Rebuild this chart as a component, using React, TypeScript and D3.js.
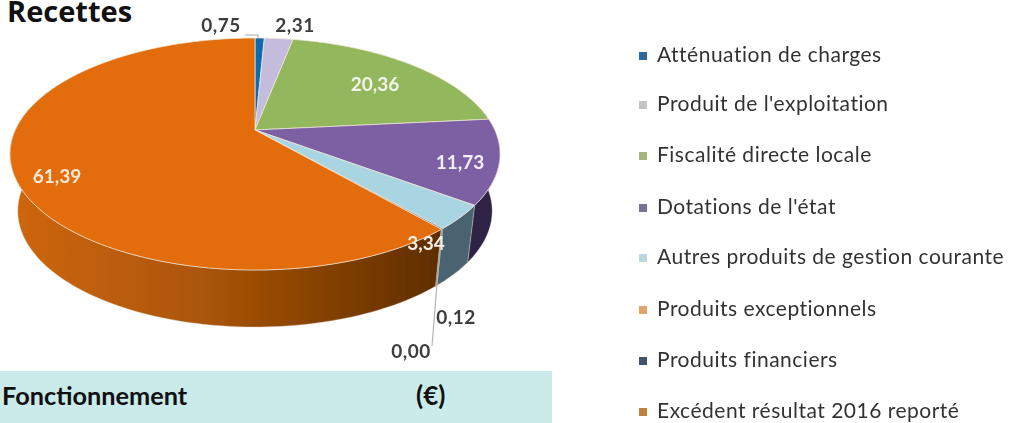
import React from "react";
import * as d3 from "d3";

const categories = [
  "Atténuation de charges",
  "Produit de l'exploitation",
  "Fiscalité directe locale",
  "Dotations de l'état",
  "Autres produits de gestion courante",
  "Produits exceptionnels",
  "Produits financiers",
  "Excédent résultat 2016 reporté",
];
const values = [0.75, 2.31, 20.36, 11.73, 3.34, 0.0, 0.12, 61.39];
const labels = ["0,75", "2,31", "20,36", "11,73", "3,34", "0,00", "0,12", "61,39"];
const topColors = ["#0f6aae", "#c3bcdc", "#93b75c", "#7d5ea3", "#a9d5e2", "#e8a05a", "#44606f", "#e36c09"];
const sideColors = ["#0a4a7a", "#8b86a0", "#66803f", "#2d2347", "#4a6470", "#a8682a", "#4a6470", "url(#orangeSide)"];
const legendColors = ["#2f6c9c", "#c4c4c6", "#a5b57a", "#77729a", "#bcd8de", "#e0a36c", "#3c566e", "#bf803f"];

const cx = 255, cy = 154, rx = 245, ry = 116, depth = 57, tilt = -0.207, baseScale = 0.968;

function project(theta: number, dy = 0, sx = 1): [number, number] {
  const x = Math.sin(theta), y = -Math.cos(theta);
  const d = 1 + tilt * y;
  return [cx + (sx * rx * x * Math.sqrt(1 - tilt * tilt)) / d, cy + (ry * (y + tilt)) / d + dy];
}

const apex: [number, number] = [cx, cy + ry * tilt];
const arcs = d3.pie<number>().sort(null).value((d) => d)(values);
const line = d3.line();

function topPath(a0: number, a1: number) {
  const n = Math.max(2, Math.ceil((a1 - a0) * 40));
  const pts = d3.range(n + 1).map((i) => project(a0 + ((a1 - a0) * i) / n));
  return line([apex, ...pts]) + "Z";
}

function sidePath(a0: number, a1: number) {
  const lo = Math.max(a0, Math.PI / 2 - 0.2), hi = Math.min(a1, (3 * Math.PI) / 2 + 0.2);
  if (hi <= lo) return null;
  const n = Math.max(2, Math.ceil((hi - lo) * 40));
  const ts = d3.range(n + 1).map((i) => lo + ((hi - lo) * i) / n);
  return line([...ts.map((t) => project(t)), ...ts.slice().reverse().map((t) => project(t, depth, baseScale))]) + "Z";
}

const inside = [
  { i: 2, x: 375, y: 91, color: "#f2f4ea" },
  { i: 3, x: 460, y: 169, color: "#f3eff8" },
  { i: 4, x: 426, y: 250, color: "#f4efe8" },
  { i: 7, x: 57, y: 183, color: "#fbe9d8" },
];
const outside = [
  { i: 0, x: 221, y: 32 },
  { i: 1, x: 295, y: 32 },
  { i: 6, x: 456, y: 324 },
  { i: 5, x: 411, y: 358 },
];
const legendY = [56, 105, 156, 208, 258, 310, 361, 412];

const font = "Lato, 'Open Sans', sans-serif";

export default function App() {
  const tip = project(arcs[6].endAngle);
  return (
    <svg width={1009} height={423} style={{ position: "absolute", left: 0, top: 0, background: "#fff" }} fontFamily={font}>
      <defs>
        <linearGradient id="orangeSide" gradientUnits="userSpaceOnUse" x1={10} x2={440} y1={0} y2={0}>
          <stop offset="0" stopColor="#cf6609" />
          <stop offset="0.45" stopColor="#ab5507" />
          <stop offset="0.8" stopColor="#7a3c04" />
          <stop offset="1" stopColor="#5e2e02" />
        </linearGradient>
        <filter id="soft" x="-5%" y="-5%" width="110%" height="110%">
          <feGaussianBlur stdDeviation="0.45" />
        </filter>
      </defs>

      <g filter="url(#soft)">
        {arcs.map((a, i) => {
          const d = sidePath(a.startAngle, a.endAngle);
          return d ? <path key={i} d={d} fill={sideColors[i]} stroke="#d9c9b8" strokeWidth={0.4} /> : null;
        })}
        {arcs.map((a, i) =>
          a.endAngle > a.startAngle ? (
            <path key={i} d={topPath(a.startAngle, a.endAngle)} fill={topColors[i]} stroke="#f3ead8" strokeWidth={0.7} strokeLinejoin="round" />
          ) : null
        )}

        <path d={`M245,35H258V38`} fill="none" stroke="#a6a6a6" strokeWidth={1} />
        <path d={`M${tip[0]},${tip[1]}L432,346`} fill="none" stroke="#b4b4b4" strokeWidth={1.2} />

        {inside.map((l) => (
          <text key={l.i} x={l.x} y={l.y} textAnchor="middle" fontSize={19} fontWeight={700} fill={l.color}>{labels[l.i]}</text>
        ))}
        {outside.map((l) => (
          <text key={l.i} x={l.x} y={l.y} textAnchor="middle" fontSize={19} letterSpacing={0.5} fontWeight={700} fill="#3c3c3c">{labels[l.i]}</text>
        ))}

        {categories.map((c, i) => (
          <g key={c}>
            <rect x={639} y={legendY[i] - 4} width={8} height={8} fill={legendColors[i]} />
            <text x={657} y={legendY[i] + 6} fontSize={21} letterSpacing={0.5} fill="#333">{c}</text>
          </g>
        ))}
      </g>

      <text x={7} y={22} fontSize={29} fontWeight={700} fontFamily="'Open Sans', sans-serif" fill="#111">Recettes</text>

      <rect x={0} y={371} width={552} height={52} fill="#cbeaea" />
      <text x={2} y={405} fontSize={25.3} fontWeight={700} fill="#111">Fonctionnement</text>
      <text x={416} y={405} fontSize={26} fontWeight={700} fill="#111">(€)</text>
    </svg>
  );
}
